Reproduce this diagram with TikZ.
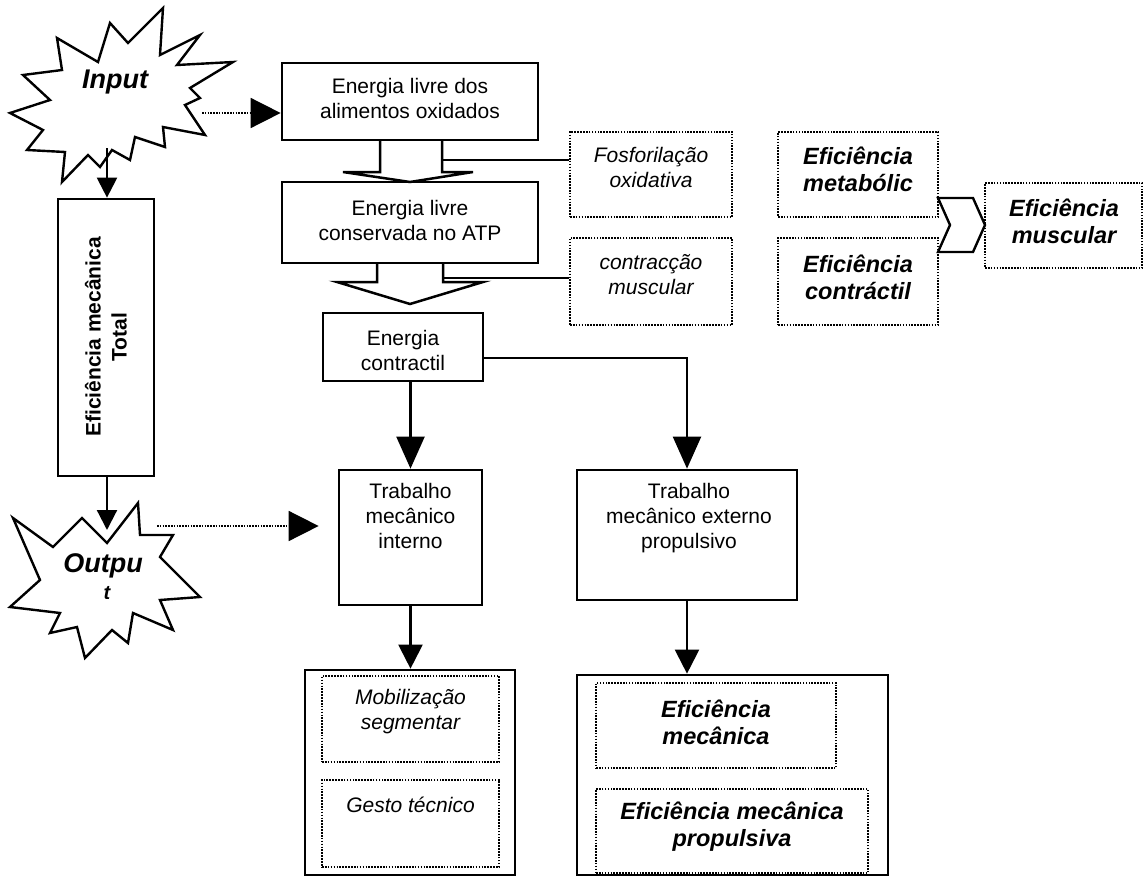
\documentclass[tikz,border=0pt]{standalone}
\usepackage{fontspec}
\setmainfont{Liberation Sans}
\usetikzlibrary{arrows.meta}
\begin{document}
\begin{tikzpicture}[x=1pt,y=-1pt,
  solidbox/.style={draw, line width=2.7pt, fill=white, inner sep=0pt},
  dotbox/.style={draw, line width=1.6pt, dash pattern=on 1.6pt off 1.3pt, inner sep=0pt},
  txt/.style={align=center, inner sep=0pt, font=\fontsize{21}{25}\selectfont},
  itxt/.style={align=center, inner sep=0pt, font=\fontsize{21}{25}\selectfont\itshape},
  bitxt/.style={align=center, inner sep=0pt, font=\fontsize{23.5}{27}\selectfont\bfseries\itshape},
  startxt/.style={align=center, inner sep=0pt, font=\fontsize{27}{30}\selectfont\bfseries\itshape},
  star/.style={draw, line width=2.4pt, fill=white, line join=miter},
  conn/.style={line width=2.2pt},
  bigtip/.style={-{Triangle[length=32pt,width=28pt]}},
  midtip/.style={-{Triangle[length=24pt,width=24pt]}},
  smalltip/.style={-{Triangle[length=20pt,width=20pt]}},
  dotconn/.style={line width=1.6pt, dash pattern=on 1.6pt off 1.2pt, -{Triangle[length=30pt,width=30pt]}},
  blockarrow/.style={draw, line width=2.5pt, fill=white, line join=miter}
]
\useasboundingbox (0,0) rectangle (1146,878);

% ---- stars ----
\draw[star] (163,8) -- (160,55) -- (200,35) -- (177,65) -- (233,62) -- (190,88) -- (200,98) -- (185,105) -- (205,135) -- (163,127) -- (165,147) -- (135,137) -- (130,160) -- (112,150) -- (100,167) -- (88,155) -- (62,182) -- (65,152) -- (27,150) -- (43,130) -- (10,113) -- (50,100) -- (23,75) -- (62,70) -- (57,38) -- (98,62) -- (110,23) -- (128,43) -- cycle;
\node[startxt] (inlabel) at (115,82) {Input};
\coordinate (instarE) at (202,113);
\coordinate (instarS) at (107,148);

\draw[star] (13,518) -- (53,547) -- (82,518) -- (107,543) -- (138,503) -- (140,535) -- (173,535) -- (160,557) -- (200,597) -- (160,600) -- (173,630) -- (133,613) -- (128,643) -- (112,630) -- (85,658) -- (77,627) -- (50,633) -- (60,613) -- (10,607) -- (40,580) -- cycle;
\node[startxt] (outlabel) at (103,566) {Outpu};
\begin{scope}
  \clip (92,584) rectangle (122,598);
  \node[inner sep=0pt, font=\fontsize{20}{20}\selectfont\bfseries\itshape, anchor=base] (outlabelt) at (107,599) {t};
\end{scope}
\coordinate (outstarE) at (157,526);
\coordinate (outstarN) at (107,530);

% ---- main boxes ----
\node[solidbox, minimum width=256, minimum height=77] (B1) at (410,101.5) {};
\node[txt] (B1t) at (410,98) {Energia livre dos\\alimentos oxidados};
\node[solidbox, minimum width=256, minimum height=81] (B2) at (410,222.5) {};
\node[txt] (B2t) at (410,220) {Energia livre\\conservada no ATP};
\node[solidbox, minimum width=160, minimum height=68] (B3) at (403,347) {};
\node[txt] (B3t) at (403,350) {Energia\\contractil};
\node[solidbox, minimum width=143, minimum height=135] (B4) at (410.5,537.5) {};
\node[txt] (B4t) at (410.5,516) {Trabalho\\mecânico\\interno};
\node[solidbox, minimum width=220, minimum height=130] (B5) at (687,535) {};
\node[txt] (B5t) at (689,518) {Trabalho\\mecânico externo\\propulsivo};

\node[solidbox, minimum width=96, minimum height=277] (eff) at (106,337.5) {};
\node[align=center, inner sep=0pt, font=\fontsize{21}{26}\selectfont\bfseries, rotate=90] (efft) at (106,337) {Eficiência mecânica\\Total};

% ---- block arrows ----
\draw[blockarrow] (380,141) -- (380,172) -- (343,172) -- (410,182) -- (473,172) -- (442,172) -- (442,141);
\coordinate (ba1) at (442,160);
\draw[blockarrow] (377,264) -- (377,282) -- (337,282) -- (410,304) -- (483,282) -- (443,282) -- (443,264);
\coordinate (ba2) at (443,278);

% ---- dotted side boxes ----
\node[dotbox, minimum width=162, minimum height=85] (D1) at (651,174.5) {};
\node[itxt] (D1t) at (651,167) {Fosforilação\\oxidativa};
\node[dotbox, minimum width=162, minimum height=87] (D2) at (651,281.5) {};
\node[itxt] (D2t) at (651,275) {contracção\\muscular};
\node[dotbox, minimum width=160, minimum height=85] (D3) at (858,174.5) {};
\node[bitxt] (D3t) at (858,169) {Eficiência\\metabólic};
\node[dotbox, minimum width=160, minimum height=87] (D4) at (858,281.5) {};
\node[bitxt] (D4t) at (858,277) {Eficiência\\contráctil};
\node[dotbox, minimum width=157, minimum height=85] (D5) at (1063.5,225.5) {};
\node[bitxt] (D5t) at (1064,221) {Eficiência\\muscular};
\draw[line width=2.4pt, line join=miter] (938,198) -- (973,198) -- (985,225) -- (973,252) -- (938,252) -- (950,225) -- cycle;

\draw[conn] (ba1) -- (ba1 -| D1.west);
\draw[conn] (ba2) -- (ba2 -| D2.west);

% ---- containers ----
\node[solidbox, minimum width=210, minimum height=205] (C1) at (410,772.5) {};
\node[dotbox, minimum width=177, minimum height=86] (M1) at (410.5,719) {};
\node[itxt] (M1t) at (410.5,712) {Mobilização\\segmentar};
\node[dotbox, minimum width=177, minimum height=87] (M2) at (410.5,823.5) {};
\node[itxt] (M2t) at (410.5,805) {Gesto técnico};

\node[solidbox, minimum width=311, minimum height=200] (C2) at (732.5,775) {};
\node[dotbox, minimum width=240, minimum height=85] (E1) at (716,725.5) {};
\node[bitxt] (E1t) at (716,722) {Eficiência\\mecânica};
\node[dotbox, minimum width=272, minimum height=84] (E2) at (732,831) {};
\node[bitxt] (E2t) at (732,827) {Eficiência mecânica\\propulsiva};

% ---- connectors ----
\draw[dotconn] (instarE) -- (instarE -| B1.west);
\draw[conn, smalltip] (instarS) -- (eff.north -| instarS);
\draw[conn, smalltip] (eff.south -| outstarN) -- (outstarN);
\draw[dotconn, shorten >=19pt] (outstarE) -- (outstarE -| B4.west);
\draw[conn, bigtip] (B4.north |- B3.south) -- (B4.north);
\draw[conn, bigtip] ([yshift=-11pt]B3.east) -| (B5.north);
\draw[conn, midtip] (B4.south) -- (B4.south |- C1.north);
\draw[conn, midtip] (B5.south) -- (B5.south |- C2.north);
\end{tikzpicture}
\end{document}
